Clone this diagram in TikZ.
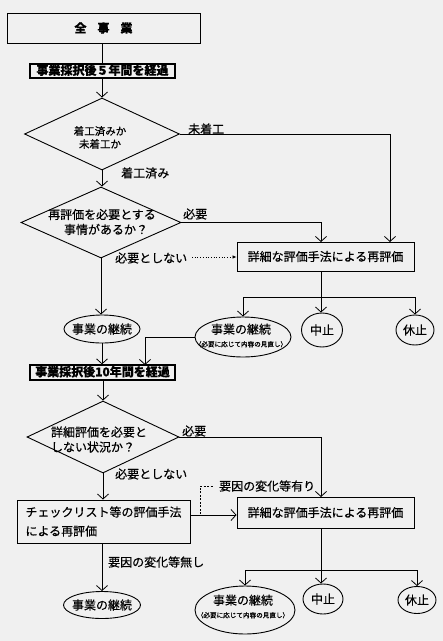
\documentclass[tikz,border=0pt]{standalone}
\usepackage{fontspec}
\setmainfont{Noto Sans CJK JP}[FakeBold=0.5]
\usetikzlibrary{arrows.meta,shapes.geometric}
\begin{document}
\begin{tikzpicture}[x=1pt,y=-1pt,
  txt/.style={inner sep=0pt, font=\fontsize{12}{15}\selectfont},
  lbl/.style={txt, anchor=west},
  box/.style={draw, line width=0.9pt, rectangle, inner sep=0pt, font=\fontsize{12}{19}\selectfont},
  tbox/.style={draw, line width=1.3pt, rectangle, inner sep=0pt, text height=9pt, text depth=1.5pt, font=\fontsize{12}{14}\selectfont\bfseries},
  dia/.style={draw, line width=0.9pt, diamond, inner sep=0pt},
  oval/.style={draw, line width=0.9pt, ellipse, inner sep=0pt},
  ln/.style={line width=0.8pt},
  arr/.style={line width=0.8pt, -{Straight Barb[length=5pt,width=11pt,line width=0.8pt]}},
  small/.style={font=\fontsize{6.6}{8}\selectfont}
]
\path[fill=black!6] (0,0) rectangle (443,641);
\useasboundingbox (0,0) rectangle (443,641);

% top part
\node[box, minimum width=193, minimum height=30, font=\fontsize{12}{14}\selectfont\bfseries] (top) at (103.5,28) {全\hspace{11pt}事\hspace{11pt}業};
\node[tbox, minimum width=145, minimum height=14] (y5) at (102.5,71) {事業採択後５年間を経過};

\node[dia, minimum width=155, minimum height=72] (d1) at (102,134) {};
\node[txt, font=\fontsize{10.5}{13}\selectfont, align=center] (d1t) at (100,137.5) {着工済みか\\未着工か};

\node[dia, minimum width=160, minimum height=71] (d2) at (101,222.5) {};
\node[txt, align=center] (d2t) at (102,222) {再評価を必要とする\\\hspace{8pt}事情があるか？};

\node[box, minimum width=177, minimum height=29] (eval1) at (325.5,256.5) {詳細な評価手法による再評価};

\node[oval, minimum width=76, minimum height=28] (c1) at (102,329) {};
\node[txt] (c1t) at (c1) {事業の継続};
\node[oval, minimum width=96, minimum height=40] (c2) at (243,337) {};
\node[txt, align=center] (c2t) at (241,335.5) {事業の継続\\[-2pt]{\fontsize{6.6}{8}\selectfont （必要に応じて内容の見直し）}};
\node[oval, minimum width=41, minimum height=34] (stop1) at (322,330) {};
\node[txt] (stop1t) at (stop1) {中止};
\node[oval, minimum width=38, minimum height=30] (pause1) at (415,330) {};
\node[txt] (pause1t) at (pause1) {休止};

\node[tbox, minimum width=145, minimum height=15] (y10) at (102.5,372.5) {事業採択後10年間を経過};

\node[dia, minimum width=152, minimum height=72] (d3) at (103,437) {};
\node[txt, align=left] (d3t) at (99,439.5) {詳細評価を必要と\\しない状況か？};

\node[box, minimum width=173, minimum height=43, align=left] (check) at (103.5,521.5) {チェックリスト等の評価手法\\による再評価};
\node[box, minimum width=177, minimum height=31] (eval2) at (325.5,512.5) {詳細な評価手法による再評価};

\node[oval, minimum width=77, minimum height=27] (c3) at (102,605) {};
\node[txt] (c3t) at (c3) {事業の継続};
\node[oval, minimum width=100, minimum height=48] (c4) at (245,610) {};
\node[txt, align=center] (c4t) at (243,606.5) {事業の継続\\[-2pt]{\fontsize{6.6}{8}\selectfont （必要に応じて内容の見直し）}};
\node[oval, minimum width=40, minimum height=30] (stop2) at (323,599) {};
\node[txt] (stop2t) at (stop2) {中止};
\node[oval, minimum width=38, minimum height=27] (pause2) at (417,600) {};
\node[txt] (pause2t) at (pause2) {休止};

% labels
\node[lbl] (l1) at (188,129) {未着工};
\node[lbl] (l2) at (121,173) {着工済み};
\node[lbl] (l3) at (183,214) {必要};
\node[lbl] (l4) at (115,258) {必要としない};
\node[lbl] (l5) at (182,431) {必要};
\node[lbl] (l6) at (115,474) {必要としない};
\node[lbl] (l7) at (219,486) {要因の変化等有り};
\node[lbl] (l8) at (108,562) {要因の変化等無し};

% connectors upper
\draw[ln] (top.south -| y5) -- (y5.north);
\draw[arr] (y5.south -| d1.north) -- (d1.north);
\coordinate (e1r) at (390,242);
\draw[arr] (d1.east) -| (e1r);
\draw[arr] (d1.south) -- (d1.south |- d2.north);
\coordinate (e1a) at (321,242);
\draw[arr] (d2.east) -| (e1a);
\coordinate (dt) at (192,257);
\draw[line width=0.7pt, dotted, -{Latex[length=4pt,width=3.5pt]}] (dt) -- (dt -| eval1.west);
\draw[arr] (d2.south) -- (d2.south |- c1.north);
\coordinate (j1) at (321,297);
\draw[ln] (eval1.south -| j1) -- (j1);
\draw[ln] (c2.north |- j1) -- (pause1.north |- j1);
\draw[arr] (c2.north |- j1) -- (c2.north);
\draw[arr] (j1) -- (j1 |- stop1.north);
\draw[arr] (pause1.north |- j1) -- (pause1.north);

% middle
\draw[arr] (c1.south) -- (c1.south |- y10.north);
\coordinate (y10b) at (145,365);
\draw[arr] (c2.west) -| (y10b);
\draw[arr] (y10.south -| d3.north) -- (d3.north);
\coordinate (e2a) at (321,497);
\draw[arr] (d3.east) -| (e2a);
\draw[arr] (d3.south) -- (d3.south |- check.north);
\coordinate (ce) at (190,515);
\draw[arr] (ce) -- (ce -| eval2.west);
\coordinate (ds1) at (200,514);
\coordinate (ds2) at (200,486);
\coordinate (ds3) at (214,486);
\draw[line width=0.8pt, dash pattern=on 2pt off 1.5pt] (ds1) -- (ds2) -- (ds3);
\draw[arr] (check.south -| c3.north) -- (c3.north);

% lower
\coordinate (j2) at (321,570);
\draw[ln] (eval2.south -| j2) -- (j2);
\draw[ln] (c4.north |- j2) -- (pause2.north |- j2);
\draw[arr] (c4.north |- j2) -- (c4.north);
\draw[arr] (j2) -- (j2 |- stop2.north);
\draw[arr] (pause2.north |- j2) -- (pause2.north);
\end{tikzpicture}
\end{document}
